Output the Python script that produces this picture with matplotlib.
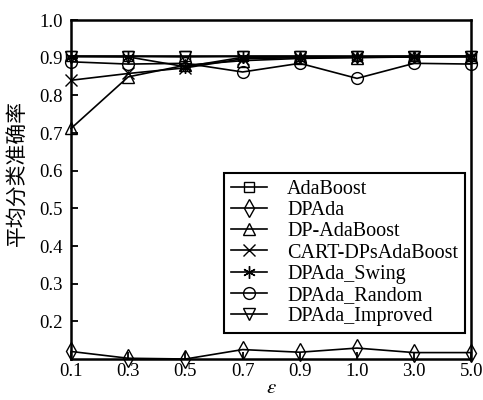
import numpy as np
import matplotlib
matplotlib.use('Agg')
import matplotlib.pyplot as plt

plt.rcParams['font.family'] = ['Liberation Serif', 'Noto Sans CJK SC']
plt.rcParams['mathtext.fontset'] = 'stix'

# x categories (privacy budget)
eps_labels = ['0.1', '0.3', '0.5', '0.7', '0.9', '1.0', '3.0', '5.0']

adaboost = [0.905, 0.905, 0.905, 0.905, 0.905, 0.905, 0.905, 0.905]
dpada = [0.120, 0.102, 0.100, 0.125, 0.118, 0.129, 0.117, 0.117]
dp_adaboost = [0.712, 0.849, 0.880, 0.892, 0.898, 0.900, 0.902, 0.903]
cart_dps = [0.840, 0.858, 0.873, 0.897, 0.900, 0.901, 0.902, 0.903]
dpada_swing = [0.903, 0.902, 0.876, 0.901, 0.902, 0.902, 0.903, 0.903]
dpada_random = [0.889, 0.883, 0.885, 0.862, 0.885, 0.845, 0.885, 0.883]
dpada_improved = [0.903, 0.903, 0.902, 0.903, 0.903, 0.902, 0.903, 0.903]

series = [
    ('AdaBoost', adaboost, 's', 7.5),
    ('DPAda', dpada, 'd', 9),
    ('DP-AdaBoost', dp_adaboost, '^', 8.5),
    ('CART-DPsAdaBoost', cart_dps, 'x', 8),
    ('DPAda_Swing', dpada_swing, (6, 2, 0), 9),
    ('DPAda_Random', dpada_random, 'o', 8.5),
    ('DPAda_Improved', dpada_improved, 'v', 8.5),
]

fig = plt.figure(figsize=(4.83, 4.0), dpi=100)
ax = fig.add_axes([0.147, 0.1025, 0.829, 0.8475])

x = np.arange(len(eps_labels))
for name, vals, mk, ms in series:
    ax.plot(x, vals, color='black', linewidth=1.2, marker=mk, markersize=ms,
            markerfacecolor='none', markeredgecolor='black', markeredgewidth=1.0,
            label=name, clip_on=False)

ax.set_xlim(0, len(eps_labels) - 1)
ax.set_ylim(0.1, 1.0)
ax.set_xticks(x)
ax.set_xticklabels(eps_labels)
ax.set_yticks(np.arange(0.2, 1.01, 0.1))
ax.set_yticklabels(['%.1f' % v for v in np.arange(0.2, 1.01, 0.1)])
ax.tick_params(direction='in', length=5, width=1.3, labelsize=13.5)
ax.tick_params(axis='x', pad=3)
ax.tick_params(axis='y', pad=6)

for sp in ax.spines.values():
    sp.set_linewidth(1.8)

ax.set_xlabel(r'$\varepsilon$', fontsize=15, labelpad=-1)
ax.set_ylabel('平均分类准确率', fontsize=15, family=['Noto Sans CJK SC'])
ax.yaxis.set_label_coords(-0.106, 0.549)

leg = ax.legend(loc='lower right', bbox_to_anchor=(0.984, 0.077), borderaxespad=0,
                fontsize=14.5, fancybox=False, edgecolor='black', framealpha=1,
                handlelength=1.8, labelspacing=0.1, borderpad=0.35, handletextpad=1.0)
leg.get_frame().set_linewidth(1.5)

plt.savefig('out.png', dpi=100)
